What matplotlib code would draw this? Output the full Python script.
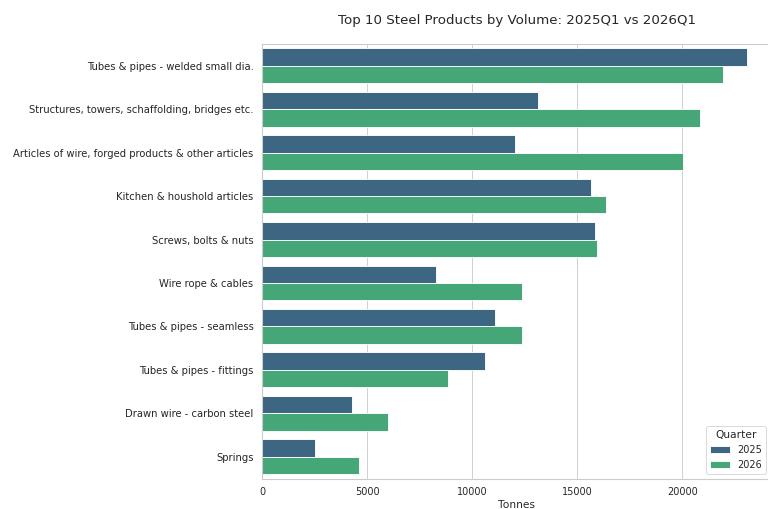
import pandas as pd
import seaborn as sns
import matplotlib
matplotlib.use("Agg")
import matplotlib.pyplot as plt

# data (tonnes)
products = [
    "Tubes & pipes - welded small dia.",
    "Structures, towers, schaffolding, bridges etc.",
    "Articles of wire, forged products & other articles",
    "Kitchen & houshold articles",
    "Screws, bolts & nuts",
    "Wire rope & cables",
    "Tubes & pipes - seamless",
    "Tubes & pipes - fittings",
    "Drawn wire - carbon steel",
    "Springs",
]
vol_2025 = [23070, 13130, 12050, 15680, 15870, 8290, 11080, 10590, 4260, 2540]
vol_2026 = [21930, 20850, 20040, 16390, 15940, 12380, 12350, 8850, 6020, 4600]

df = pd.DataFrame({
    "Product": products * 2,
    "Tonnes": vol_2025 + vol_2026,
    "Quarter": ["2025"] * len(products) + ["2026"] * len(products),
})

sns.set_theme(style="whitegrid", context="notebook")
plt.rcParams["ytick.labelsize"] = 11.3

fig = plt.figure(figsize=(12, 509 / 64), dpi=64)
ax = fig.add_axes([262 / 768, 1 - 478.5 / 509, 509 / 768, 434.5 / 509])

sns.barplot(data=df, y="Product", x="Tonnes", hue="Quarter",
            palette="viridis", ax=ax)

ax.set_title("Top 10 Steel Products by Volume: 2025Q1 vs 2026Q1",
             fontsize=15.1, pad=22)
ax.set_ylabel("")
ax.set_xlabel("Tonnes")
ax.legend(title="Quarter", loc="lower right")

fig.savefig("out.png", dpi=64)
